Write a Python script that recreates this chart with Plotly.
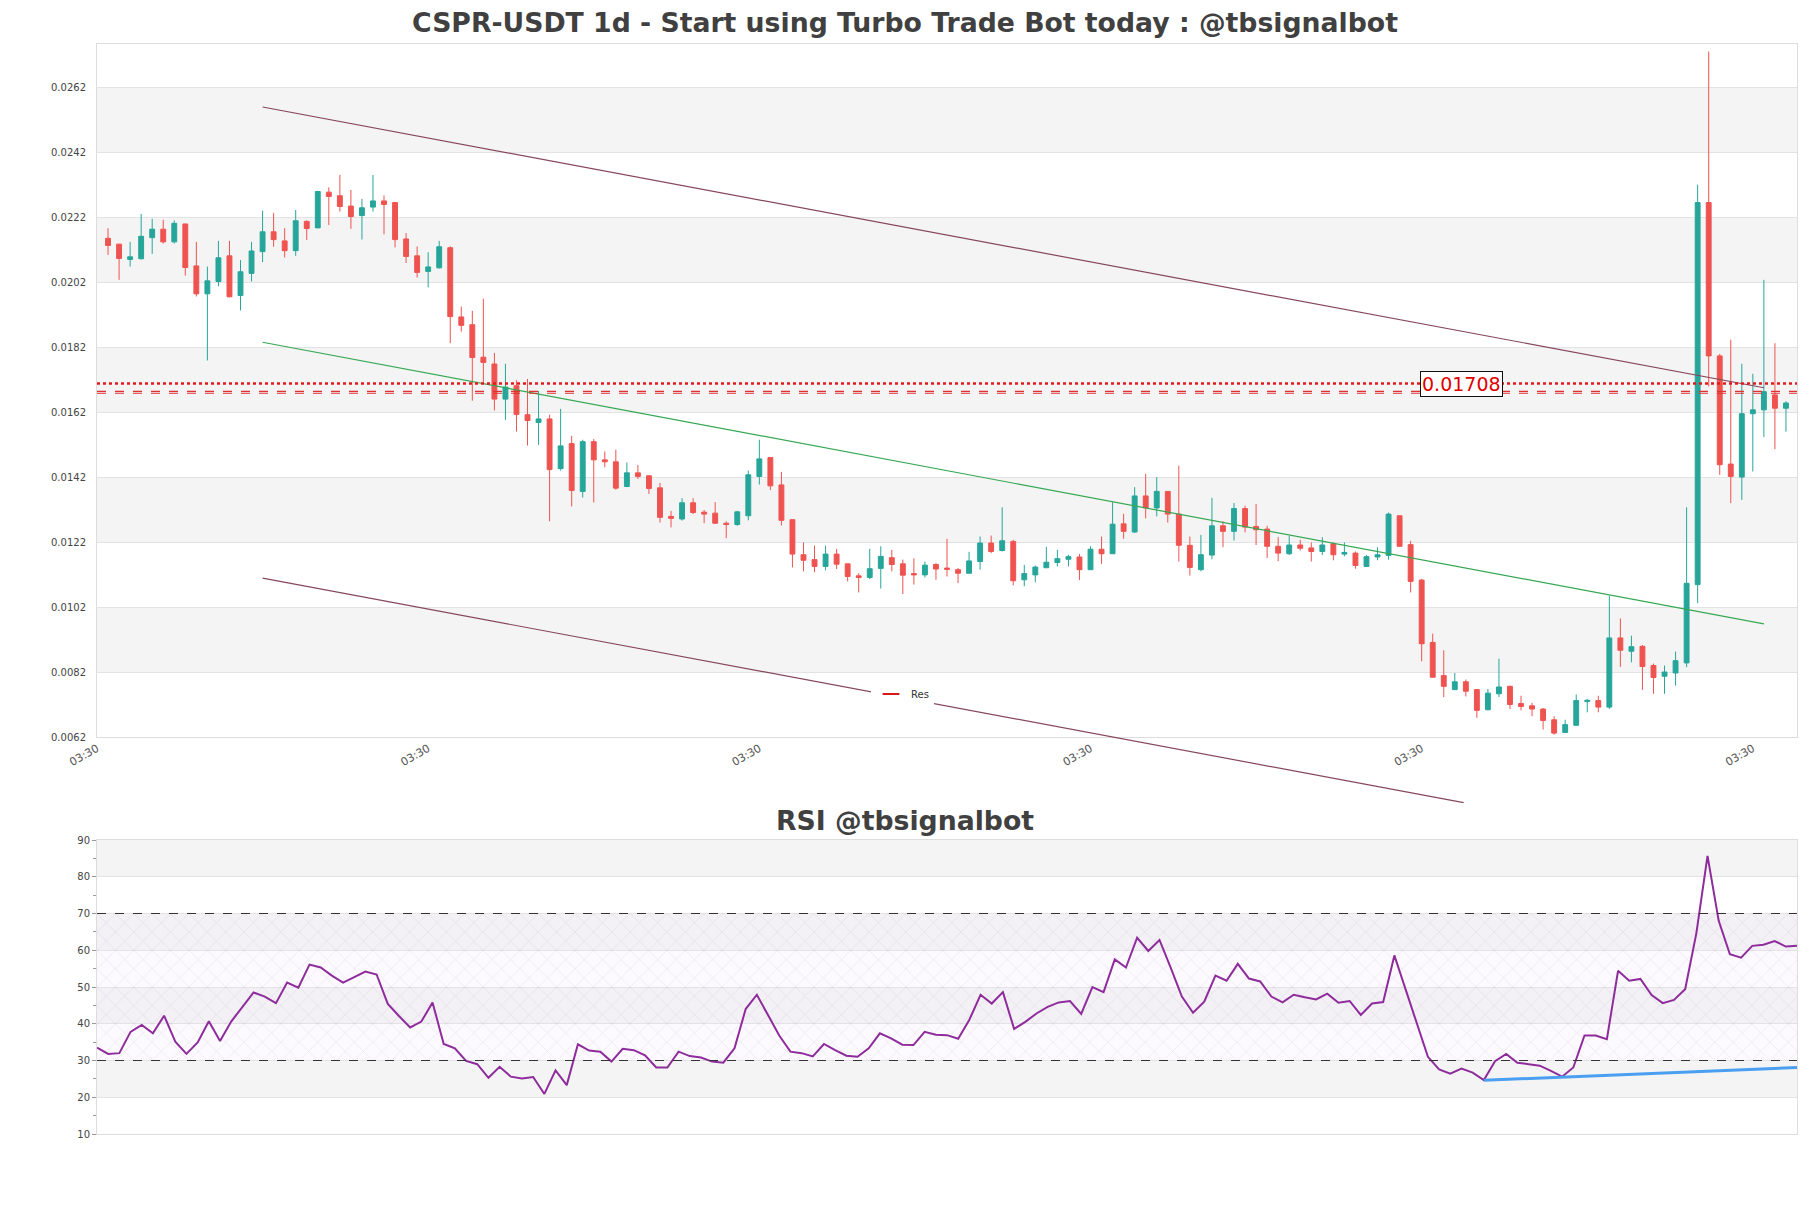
import plotly.graph_objects as go

# The page body has an 8px margin; the figure is sized to fit the 1811x1208 window.
OFF = 8
W, H = 1811 - OFF, 1208 - OFF
title_main = "CSPR-USDT 1d - Start using Turbo Trade Bot today : @tbsignalbot"
title_rsi = "RSI @tbsignalbot"

opens = [0.02155, 0.02137, 0.02090, 0.02092, 0.02157, 0.02183, 0.02144, 0.02199, 0.02070, 0.01984,
         0.02022, 0.02101, 0.01979, 0.02047, 0.02114, 0.02175, 0.02147, 0.02117, 0.02207, 0.02187,
         0.02297, 0.02286, 0.02254, 0.02225, 0.02251, 0.02270, 0.02265, 0.02153, 0.02101, 0.02053,
         0.02064, 0.02126, 0.01913, 0.01889, 0.01789, 0.01768, 0.01660, 0.01701, 0.01612, 0.01588,
         0.01599, 0.01446, 0.01523, 0.01376, 0.01529, 0.01473, 0.01467, 0.01391, 0.01433, 0.01424,
         0.01387, 0.01299, 0.01291, 0.01341, 0.01312, 0.01309, 0.01278, 0.01274, 0.01301, 0.01422,
         0.01480, 0.01396, 0.01289, 0.01181, 0.01166, 0.01145, 0.01183, 0.01153, 0.01116, 0.01111,
         0.01139, 0.01172, 0.01153, 0.01123, 0.01119, 0.01151, 0.01140, 0.01135, 0.01124, 0.01160,
         0.01217, 0.01194, 0.01222, 0.01104, 0.01119, 0.01141, 0.01157, 0.01167, 0.01174, 0.01135,
         0.01198, 0.01184, 0.01276, 0.01251, 0.01362, 0.01325, 0.01376, 0.01306, 0.01210, 0.01135,
         0.01180, 0.01270, 0.01253, 0.01323, 0.01268, 0.01260, 0.01207, 0.01184, 0.01211, 0.01202,
         0.01191, 0.01215, 0.01183, 0.01186, 0.01145, 0.01174, 0.01179, 0.01301, 0.01212, 0.01103,
         0.00911, 0.00809, 0.00766, 0.00790, 0.00766, 0.00704, 0.00753, 0.00776, 0.00723, 0.00716,
         0.00706, 0.00673, 0.00634, 0.00656, 0.00729, 0.00732, 0.00712, 0.00925, 0.00884, 0.00899,
         0.00840, 0.00807, 0.00817, 0.00848, 0.01089, 0.02265, 0.01793, 0.01460, 0.01420, 0.01615,
         0.01627, 0.01673, 0.01632]
highs = [0.02186, 0.02138, 0.02144, 0.02230, 0.02215, 0.02212, 0.02210, 0.02200, 0.02144, 0.02068,
         0.02147, 0.02147, 0.02088, 0.02144, 0.02240, 0.02233, 0.02186, 0.02242, 0.02210, 0.02301,
         0.02312, 0.02350, 0.02304, 0.02276, 0.02350, 0.02287, 0.02267, 0.02171, 0.02130, 0.02112,
         0.02147, 0.02130, 0.01945, 0.01932, 0.01969, 0.01802, 0.01769, 0.01718, 0.01722, 0.01685,
         0.01612, 0.01630, 0.01547, 0.01535, 0.01537, 0.01499, 0.01504, 0.01465, 0.01457, 0.01426,
         0.01402, 0.01316, 0.01355, 0.01355, 0.01319, 0.01343, 0.01284, 0.01316, 0.01440, 0.01535,
         0.01480, 0.01436, 0.01289, 0.01219, 0.01209, 0.01209, 0.01199, 0.01153, 0.01124, 0.01199,
         0.01207, 0.01196, 0.01166, 0.01170, 0.01160, 0.01155, 0.01230, 0.01140, 0.01190, 0.01237,
         0.01240, 0.01327, 0.01227, 0.01150, 0.01148, 0.01205, 0.01196, 0.01181, 0.01183, 0.01207,
         0.01237, 0.01343, 0.01307, 0.01389, 0.01430, 0.01420, 0.01376, 0.01455, 0.01237, 0.01242,
         0.01356, 0.01284, 0.01340, 0.01332, 0.01337, 0.01270, 0.01235, 0.01240, 0.01227, 0.01219,
         0.01235, 0.01219, 0.01219, 0.01191, 0.01180, 0.01204, 0.01311, 0.01301, 0.01224, 0.01107,
         0.00938, 0.00887, 0.00817, 0.00797, 0.00766, 0.00768, 0.00861, 0.00778, 0.00747, 0.00725,
         0.00709, 0.00684, 0.00673, 0.00751, 0.00737, 0.00747, 0.01055, 0.00985, 0.00932, 0.00903,
         0.00846, 0.00840, 0.00883, 0.01327, 0.02320, 0.02730, 0.01799, 0.01843, 0.01769, 0.01738,
         0.02027, 0.01832, 0.01653]
lows = [0.02104, 0.02027, 0.02068, 0.02090, 0.02107, 0.02139, 0.02139, 0.02040, 0.01976, 0.01779,
        0.02007, 0.01973, 0.01933, 0.02022, 0.02082, 0.02129, 0.02096, 0.02101, 0.02150, 0.02187,
        0.02196, 0.02237, 0.02184, 0.02151, 0.02237, 0.02167, 0.02127, 0.02079, 0.02034, 0.02004,
        0.02062, 0.01832, 0.01868, 0.01655, 0.01709, 0.01625, 0.01596, 0.01560, 0.01517, 0.01519,
        0.01284, 0.01440, 0.01330, 0.01357, 0.01342, 0.01450, 0.01381, 0.01389, 0.01414, 0.01368,
        0.01280, 0.01265, 0.01286, 0.01306, 0.01278, 0.01276, 0.01232, 0.01270, 0.01287, 0.01397,
        0.01380, 0.01271, 0.01142, 0.01130, 0.01127, 0.01133, 0.01137, 0.01099, 0.01065, 0.01106,
        0.01077, 0.01130, 0.01060, 0.01089, 0.01111, 0.01104, 0.01114, 0.01094, 0.01124, 0.01135,
        0.01186, 0.01191, 0.01087, 0.01084, 0.01096, 0.01140, 0.01145, 0.01145, 0.01103, 0.01135,
        0.01153, 0.01184, 0.01230, 0.01248, 0.01293, 0.01299, 0.01280, 0.01160, 0.01117, 0.01130,
        0.01167, 0.01204, 0.01225, 0.01250, 0.01211, 0.01171, 0.01161, 0.01180, 0.01194, 0.01160,
        0.01180, 0.01164, 0.01176, 0.01138, 0.01143, 0.01164, 0.01166, 0.01205, 0.01065, 0.00853,
        0.00804, 0.00743, 0.00764, 0.00745, 0.00679, 0.00702, 0.00743, 0.00706, 0.00702, 0.00684,
        0.00643, 0.00627, 0.00634, 0.00656, 0.00696, 0.00696, 0.00706, 0.00836, 0.00850, 0.00765,
        0.00753, 0.00753, 0.00778, 0.00835, 0.01032, 0.01699, 0.01427, 0.01340, 0.01350, 0.01437,
        0.01543, 0.01506, 0.01560]
closes = [0.02133, 0.02093, 0.02098, 0.02161, 0.02183, 0.02144, 0.02201, 0.02065, 0.01984, 0.02024,
          0.02095, 0.01975, 0.02052, 0.02116, 0.02175, 0.02151, 0.02117, 0.02209, 0.02185, 0.02299,
          0.02284, 0.02253, 0.02222, 0.02249, 0.02270, 0.02259, 0.02151, 0.02099, 0.02050, 0.02067,
          0.02129, 0.01914, 0.01887, 0.01788, 0.01773, 0.01660, 0.01697, 0.01613, 0.01594, 0.01599,
          0.01443, 0.01516, 0.01379, 0.01529, 0.01473, 0.01467, 0.01386, 0.01433, 0.01422, 0.01385,
          0.01296, 0.01293, 0.01341, 0.01311, 0.01306, 0.01278, 0.01274, 0.01313, 0.01427, 0.01476,
          0.01393, 0.01287, 0.01183, 0.01164, 0.01145, 0.01183, 0.01152, 0.01114, 0.01111, 0.01138,
          0.01176, 0.01151, 0.01118, 0.01119, 0.01149, 0.01137, 0.01136, 0.01124, 0.01162, 0.01217,
          0.01191, 0.01224, 0.01101, 0.01123, 0.01143, 0.01158, 0.01169, 0.01175, 0.01135, 0.01198,
          0.01184, 0.01275, 0.01253, 0.01362, 0.01325, 0.01376, 0.01306, 0.01210, 0.01142, 0.01181,
          0.01270, 0.01253, 0.01323, 0.01266, 0.01258, 0.01207, 0.01186, 0.01211, 0.01201, 0.01191,
          0.01211, 0.01181, 0.01188, 0.01148, 0.01175, 0.01181, 0.01306, 0.01207, 0.01099, 0.00907,
          0.00804, 0.00776, 0.00790, 0.00761, 0.00702, 0.00755, 0.00774, 0.00720, 0.00714, 0.00706,
          0.00671, 0.00632, 0.00658, 0.00732, 0.00733, 0.00712, 0.00925, 0.00887, 0.00898, 0.00837,
          0.00803, 0.00820, 0.00855, 0.01093, 0.02265, 0.01793, 0.01458, 0.01422, 0.01615, 0.01627,
          0.01683, 0.01632, 0.01648]
rsi = [33.5, 31.8, 32.0, 37.8, 39.7, 37.4, 42.2, 35.1, 31.8, 34.9,
       40.7, 35.3, 40.6, 44.6, 48.5, 47.4, 45.6, 51.2, 49.8, 56.1,
       55.3, 53.1, 51.2, 52.7, 54.2, 53.4, 45.4, 42.1, 39.0, 40.6,
       45.8, 34.5, 33.3, 29.9, 29.0, 25.3, 28.3, 25.6, 25.1, 25.5,
       20.9, 27.3, 23.3, 34.4, 32.7, 32.4, 29.7, 33.2, 32.8, 31.4,
       28.1, 28.1, 32.4, 31.2, 30.8, 29.7, 29.4, 33.3, 44.0, 47.9,
       42.4, 36.8, 32.4, 32.0, 31.1, 34.5, 32.8, 31.3, 31.0, 33.3,
       37.4, 36.0, 34.3, 34.2, 37.8, 37.0, 36.9, 35.9, 41.1, 47.9,
       45.5, 48.6, 38.6, 40.5, 42.8, 44.6, 45.8, 46.2, 42.7, 50.0,
       48.6, 57.5, 55.3, 63.4, 59.8, 62.8, 55.3, 47.4, 43.0, 46.0,
       53.1, 51.7, 56.3, 52.3, 51.5, 47.4, 45.8, 47.9, 47.2, 46.6,
       48.2, 45.7, 46.2, 42.4, 45.5, 45.9, 58.6, 49.4, 40.3, 31.0,
       27.6, 26.4, 27.8, 26.7, 24.7, 29.8, 31.8, 29.4, 29.0, 28.6,
       27.2, 25.6, 28.1, 36.8, 36.8, 35.8, 54.4, 51.7, 52.2, 47.8,
       45.6, 46.5, 49.4, 64.6, 85.7, 68.0, 58.9, 58.0, 61.2, 61.5,
       62.5, 61.0, 61.2]

candle_idx = list(range(len(opens)))
rsi_idx = list(range(len(rsi)))

price_ticks = [0.0062, 0.0082, 0.0102, 0.0122, 0.0142, 0.0162, 0.0182, 0.0202, 0.0222, 0.0242, 0.0262]
price_tick_text = ["0.0062", "0.0082", "0.0102", "0.0122", "0.0142", "0.0162", "0.0182",
                   "0.0202", "0.0222", "0.0242", "0.0262"]
price_range = [0.0062, 0.02753]
x_tick_idx = [-1, 29, 59, 89, 119, 149]
x_tick_text = ["03:30", "03:30", "03:30", "03:30", "03:30", "03:30"]
x_range = [-1.0, 153.0]
rsi_ticks = [10, 20, 30, 40, 50, 60, 70, 80, 90]
rsi_range = [10, 90]
rsi_bands = [(20, 30), (40, 50), (60, 70), (80, 90)]
rsi_levels = [30, 70]
price_bands = [(0.0082, 0.0102), (0.0122, 0.0142), (0.0162, 0.0182), (0.0202, 0.0222), (0.0242, 0.0262)]

res_level = 0.01708
res_level2 = 0.01684
res_label = "0.01708"
res_label_x = 122.6

channel_x = [14, 150]
upper_y = [0.02559, 0.01695]
mid_y = [0.01835, 0.00968]
lower_x = [14, 122.8]
lower_y = [0.01109, 0.00418]

div_x = [124, 152]
div_y = [24.6, 28.1]

# ---- layout geometry (window pixels, converted to figure pixels) ----
def fy(y):
    return y - OFF

def fx(x):
    return x - OFF

ML = fx(97)
MT = fy(44)
MR = W - fx(1797)
MB = H - fy(1134)
plot_w = W - ML - MR
plot_h = H - MT - MB
price_dom = [(H - MB - fy(737)) / plot_h, 1.0]
rsi_dom = [0.0, (H - MB - fy(840)) / plot_h]
ext_dom = [(H - MB - fy(810)) / plot_h, 1.0]
ext_low = price_range[0] - (price_range[1] - price_range[0]) * (price_dom[0] - ext_dom[0]) / (price_dom[1] - price_dom[0])

GREEN = "#26a69a"
RED = "#ef5350"
BROWN = "#86475d"
TITLE_FONT = dict(family="DejaVu Sans", size=26.7, color="#404040", weight="bold")

fig = go.Figure()

fig.add_trace(go.Candlestick(
    x=candle_idx, open=opens, high=highs, low=lows, close=closes,
    increasing=dict(line=dict(color=GREEN, width=1), fillcolor=GREEN),
    decreasing=dict(line=dict(color=RED, width=1), fillcolor=RED),
    whiskerwidth=0, showlegend=False, xaxis="x", yaxis="y",
))

# trend channel lines on extended overlay axes (so the lower line may run below the plot)
fig.add_trace(go.Scatter(x=channel_x, y=upper_y, mode="lines", line=dict(color=BROWN, width=1.2),
                         showlegend=False, xaxis="x3", yaxis="y3"))
fig.add_trace(go.Scatter(x=channel_x, y=mid_y, mode="lines", line=dict(color="#35a853", width=1.2),
                         showlegend=False, xaxis="x3", yaxis="y3"))
fig.add_trace(go.Scatter(x=lower_x, y=lower_y, mode="lines", line=dict(color=BROWN, width=1.2),
                         showlegend=False, xaxis="x3", yaxis="y3"))

# legend entry
fig.add_trace(go.Scatter(x=[None], y=[None], mode="markers", name="Res",
                         marker=dict(symbol="line-ew-open", size=10, color="#d7191c",
                                     line=dict(color="#d7191c", width=3)),
                         showlegend=True, xaxis="x", yaxis="y"))

# RSI hatch area 30-70
fig.add_trace(go.Scatter(x=[rsi_idx[0], rsi_idx[-1]], y=[rsi_levels[1]] * 2, mode="lines",
                         line=dict(width=0), showlegend=False, xaxis="x2", yaxis="y2"))
fig.add_trace(go.Scatter(x=[rsi_idx[0], rsi_idx[-1]], y=[rsi_levels[0]] * 2, mode="lines",
                         line=dict(width=0), fill="tonexty", fillcolor="rgba(235,220,245,0.15)",
                         fillpattern=dict(shape="x", fgcolor="rgba(140,125,160,0.42)", size=13,
                                          solidity=0.08, fillmode="overlay"),
                         showlegend=False, xaxis="x2", yaxis="y2"))

fig.add_trace(go.Scatter(x=rsi_idx, y=rsi, mode="lines", line=dict(color="#8e2c9c", width=2),
                         showlegend=False, xaxis="x2", yaxis="y2"))
fig.add_trace(go.Scatter(x=div_x, y=div_y, mode="lines", line=dict(color="#4a9ff0", width=3),
                         showlegend=False, xaxis="x2", yaxis="y2"))

shapes = []
for b0, b1 in price_bands:
    shapes.append(dict(type="rect", xref="x domain", yref="y", x0=0, x1=1, y0=b0, y1=b1,
                       fillcolor="#f4f4f4", line=dict(width=0), layer="below"))
for b0, b1 in rsi_bands:
    shapes.append(dict(type="rect", xref="x2 domain", yref="y2", x0=0, x1=1, y0=b0, y1=b1,
                       fillcolor="#f4f4f4", line=dict(width=0), layer="below"))
for lv in rsi_levels:
    shapes.append(dict(type="line", xref="x2 domain", yref="y2", x0=0, x1=1, y0=lv, y1=lv,
                       line=dict(color="#333333", width=1.2, dash="dash")))
shapes.append(dict(type="line", xref="x domain", yref="y", x0=0, x1=1, y0=res_level, y1=res_level,
                   line=dict(color="#e31a1c", width=2.5, dash="dot")))
shapes.append(dict(type="line", xref="x domain", yref="y", x0=0, x1=1, y0=res_level2, y1=res_level2,
                   line=dict(color="#e03030", width=1.2, dash="dash")))
shapes.append(dict(type="line", xref="x domain", yref="y", x0=0, x1=1,
                   y0=res_level2 - 0.00006, y1=res_level2 - 0.00006,
                   line=dict(color="#e03030", width=1.2, dash="dash")))

annotations = [
    dict(text=title_rsi, xref="paper", yref="paper", x=(fx(905) - ML) / plot_w,
         y=(H - MB - fy(820)) / plot_h, xanchor="center", yanchor="middle", showarrow=False,
         font=TITLE_FONT),
    dict(text=res_label, xref="x", yref="y", x=res_label_x, y=res_level, showarrow=False,
         xanchor="center", yanchor="middle", font=dict(family="DejaVu Sans", size=19, color="#e00000"),
         bgcolor="white", bordercolor="#111111", borderwidth=1, borderpad=1),
]

axis_common = dict(showline=True, mirror=True, linecolor="#dddddd", linewidth=1, zeroline=False)

fig.update_layout(
    width=W, height=H,
    margin=dict(l=ML, r=MR, t=MT, b=MB),
    paper_bgcolor="white", plot_bgcolor="rgba(0,0,0,0)",
    title=dict(text=title_main, x=fx(905) / W, xanchor="center", y=1 - fy(23) / H, yanchor="middle",
               font=TITLE_FONT),
    boxgap=0.37,
    xaxis=dict(domain=[0, 1], range=x_range, anchor="y", tickmode="array", tickvals=x_tick_idx,
               ticktext=x_tick_text, tickangle=-30, showgrid=False, rangeslider=dict(visible=False),
               tickfont=dict(family="DejaVu Sans", size=11, color="#555555"), ticks="", **axis_common),
    yaxis=dict(domain=price_dom, range=price_range, anchor="x", tickmode="array", tickvals=price_ticks,
               ticktext=price_tick_text, showgrid=True, gridcolor="#e3e3e3", ticks="",
               ticklabelstandoff=8,
               tickfont=dict(family="DejaVu Sans", size=10, color="#444444"), **axis_common),
    xaxis2=dict(domain=[0, 1], range=[rsi_idx[0], rsi_idx[-1]], anchor="y2", showticklabels=False,
                showgrid=False, ticks="", **axis_common),
    yaxis2=dict(domain=rsi_dom, range=rsi_range, anchor="x2", tickmode="array", tickvals=rsi_ticks,
                showgrid=True, gridcolor="#e3e3e3", ticks="outside", ticklen=4, tickcolor="#999999",
                minor=dict(dtick=5, tick0=5, ticks="outside", ticklen=3, tickcolor="#999999", showgrid=False),
                tickfont=dict(family="DejaVu Sans", size=10, color="#444444"), **axis_common),
    xaxis3=dict(domain=[0, 1], range=x_range, anchor="y3", visible=False),
    yaxis3=dict(domain=ext_dom, range=[ext_low, price_range[1]], anchor="x3", visible=False),
    legend=dict(x=(fx(871) - ML) / plot_w, y=(H - MB - fy(694)) / plot_h, xanchor="left", yanchor="middle",
                bgcolor="white", borderwidth=0, font=dict(family="DejaVu Sans", size=10, color="#333333"),
                itemsizing="constant"),
    shapes=shapes,
    annotations=annotations,
)

fig.write_html("out.html")
